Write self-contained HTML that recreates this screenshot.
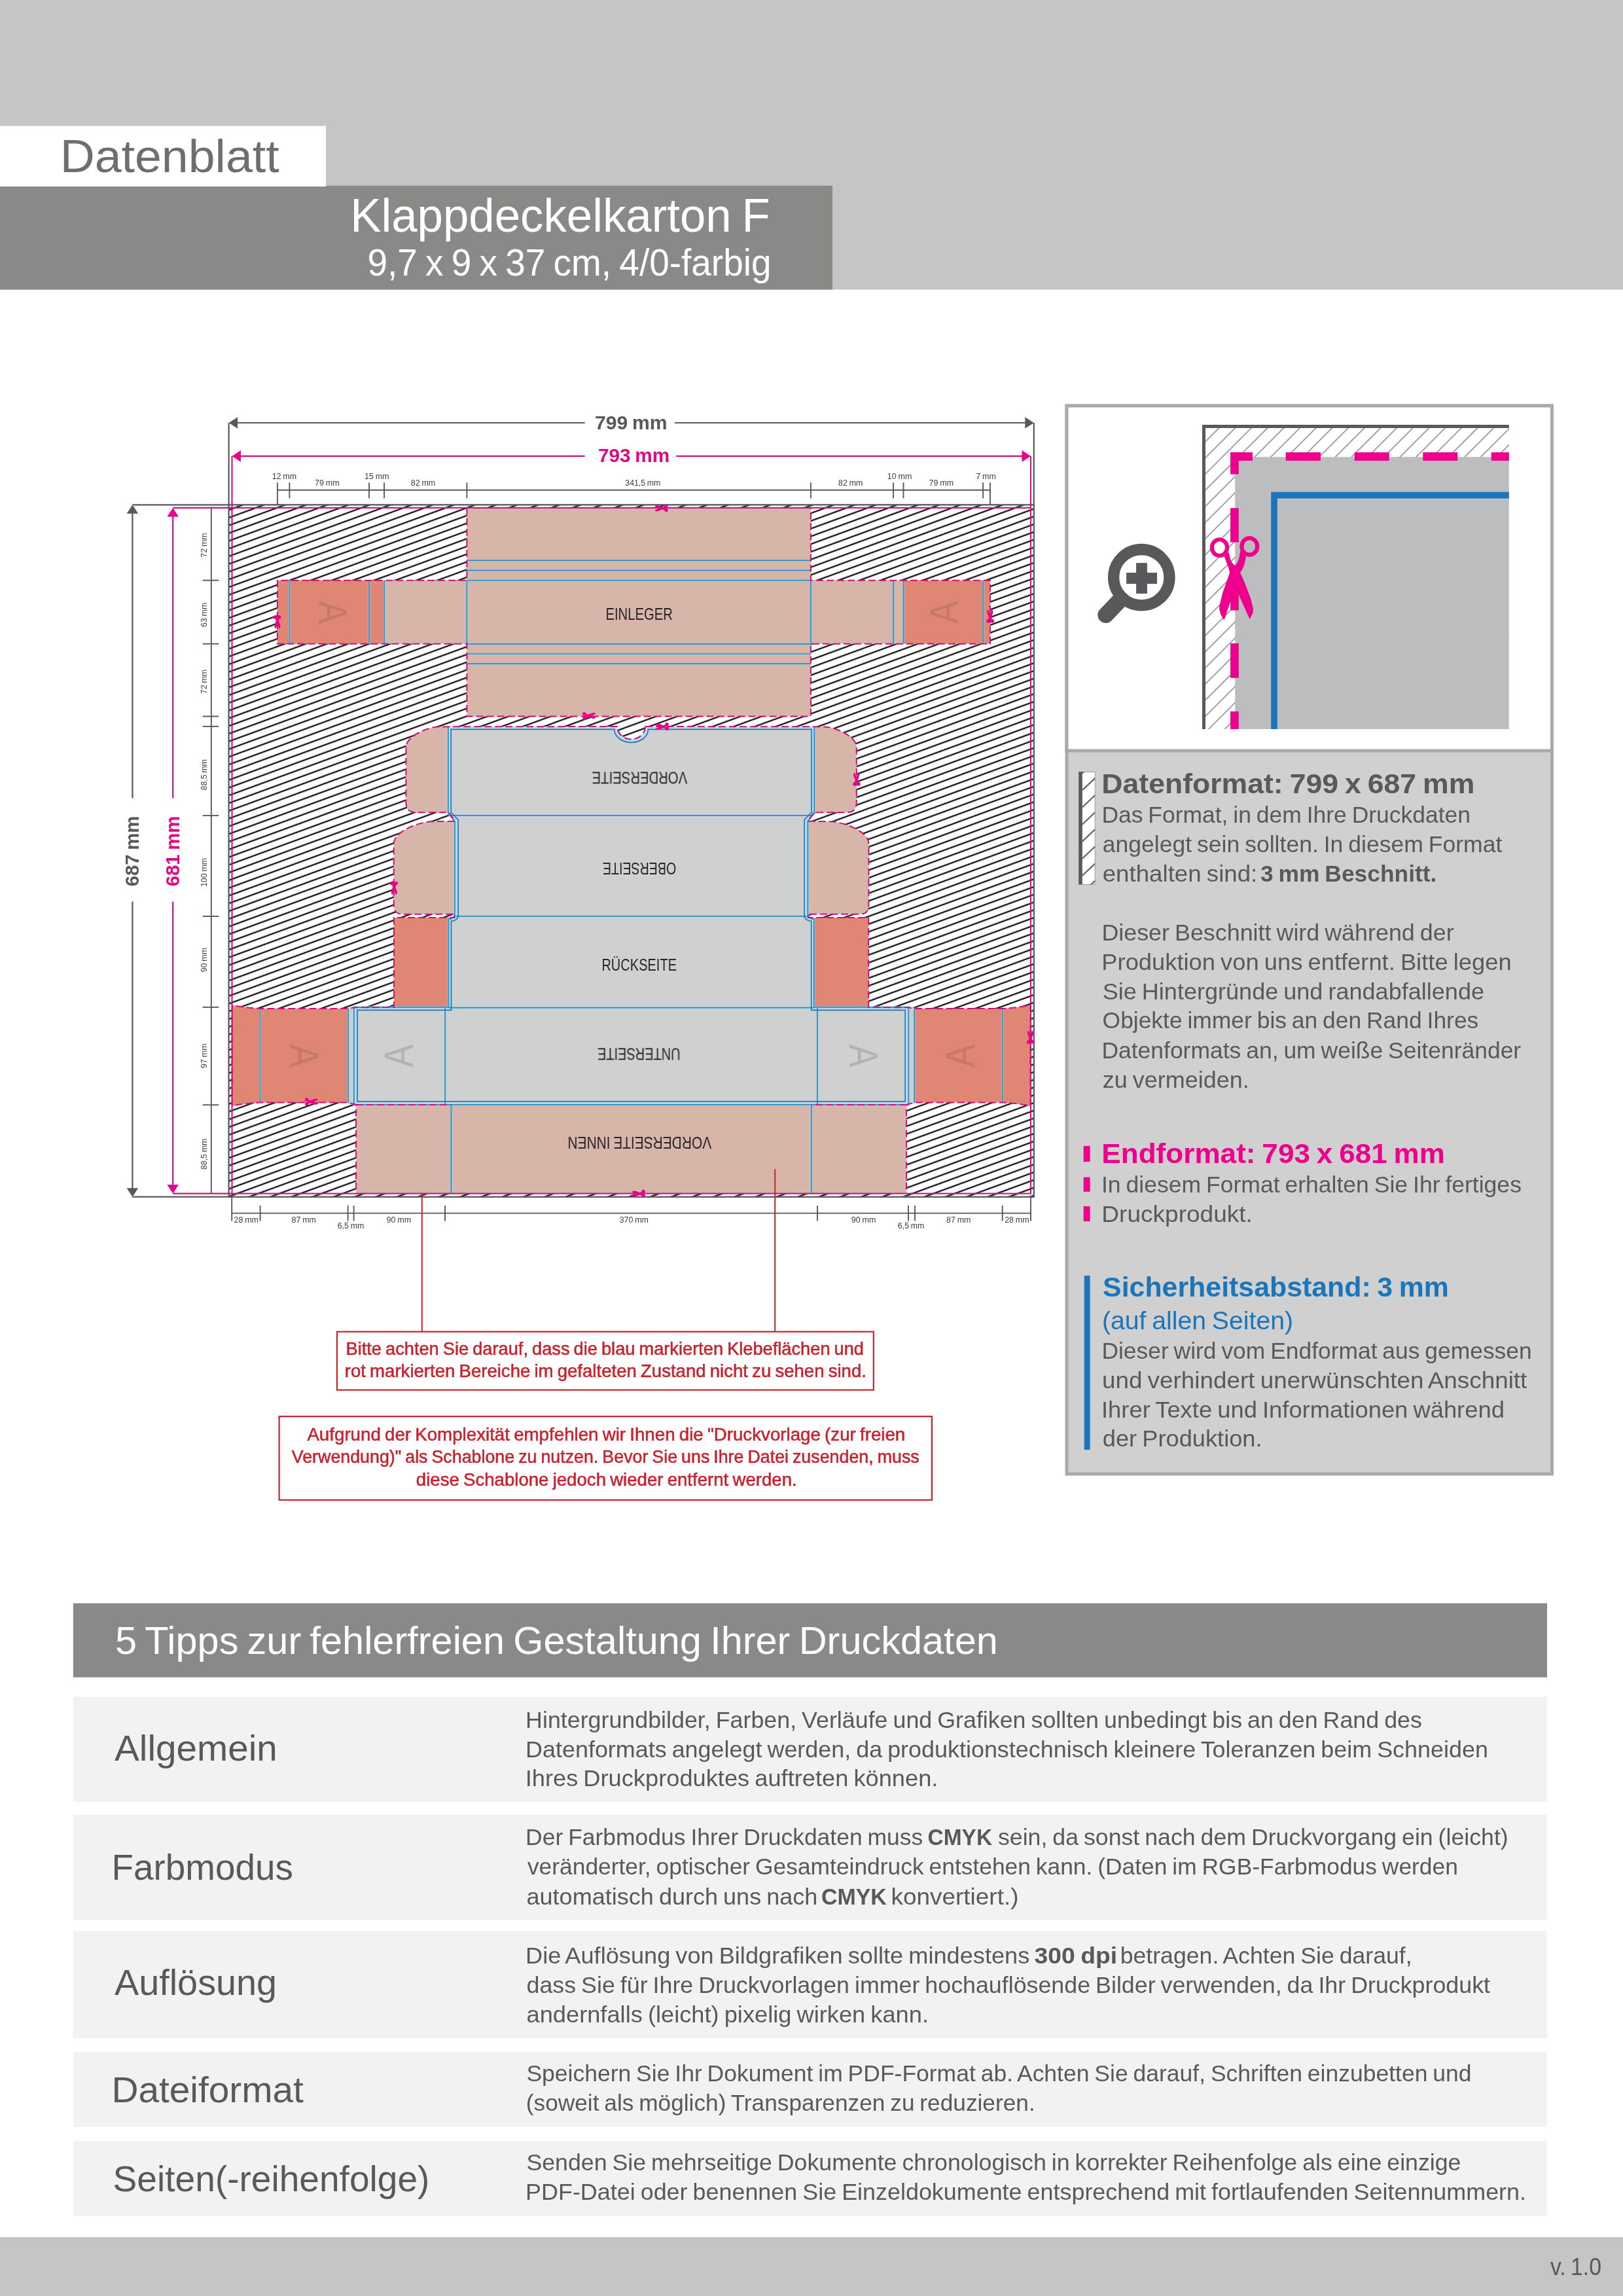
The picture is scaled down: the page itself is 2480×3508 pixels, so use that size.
<!DOCTYPE html>
<html lang="de"><head><meta charset="utf-8"><title>Datenblatt Klappdeckelkarton F</title>
<style>html,body{margin:0;padding:0;background:#fff}body{width:2480px;height:3508px;overflow:hidden;font-family:"Liberation Sans",sans-serif}svg{display:block;will-change:transform}text{white-space:pre;word-spacing:-0.055em}</style></head>
<body>
<svg width="2480" height="3508" viewBox="0 0 2480 3508" font-family='"Liberation Sans", sans-serif' fill="#58595b">
<defs>
<pattern id="hatch" patternUnits="userSpaceOnUse" width="40" height="11.07" patternTransform="translate(360 993.5) rotate(-20.08)"><rect width="40" height="11.07" fill="#fff"/><line x1="-1" y1="5.535" x2="41" y2="5.535" stroke="#111" stroke-width="2.15"/></pattern>
<pattern id="hatch45" patternUnits="userSpaceOnUse" width="40" height="17.45" patternTransform="translate(1842 662.3) rotate(-45)"><rect width="40" height="17.45" fill="#fff"/><line x1="-1" y1="8.7" x2="41" y2="8.7" stroke="#414143" stroke-width="1.1"/></pattern>
<g id="sc"><ellipse cx="-313" cy="-625" rx="157" ry="167" fill="none" stroke-width="82"/><ellipse cx="307" cy="-648" rx="161" ry="172" fill="none" stroke-width="84"/><path stroke="none" d="M5,-258 C60,-290 100,-400 115,-560 L235,-440 C215,-330 190,-200 115,-110 L235,170 L335,440 L385,640 L375,730 L310,855 L90,360 L25,180 L-97,520 L-205,840 L-230,865 L-285,760 L-317,660 L-315,580 L-245,300 L-165,80 L-100,-110 L-125,-200 L-225,-470 L-118,-530 C-100,-380 -60,-290 5,-258 Z"/></g>
<g id="sc2"><ellipse cx="-290" cy="-615" rx="150" ry="160" stroke-width="170"/><ellipse cx="290" cy="-635" rx="150" ry="160" stroke-width="170"/><path stroke-width="120" stroke-linejoin="round" d="M5,-258 C60,-290 100,-400 115,-560 L235,-440 C215,-330 190,-200 115,-110 L235,170 L335,440 L385,640 L375,730 L310,855 L90,360 L25,180 L-97,520 L-205,840 L-230,865 L-285,760 L-317,660 L-315,580 L-245,300 L-165,80 L-100,-110 L-125,-200 L-225,-470 L-118,-530 C-100,-380 -60,-290 5,-258 Z"/></g>
</defs>
<rect x="0.0" y="0.0" width="2480.0" height="442.5" fill="#c6c5c6" />
<rect x="0.0" y="283.8" width="1272.0" height="158.7" fill="#898a88" />
<rect x="0.0" y="192.5" width="498.0" height="92.5" fill="#ffffff" />
<text x="91.7" y="262.6" font-size="70.00" fill="#6d6e70" textLength="334.9" lengthAdjust="spacingAndGlyphs">Datenblatt</text>
<text x="535.2" y="353.6" font-size="71.50" fill="#ffffff" textLength="641.6" lengthAdjust="spacingAndGlyphs">Klappdeckelkarton F</text>
<text x="561.4" y="420.6" font-size="56.50" fill="#ffffff" textLength="617.1" lengthAdjust="spacingAndGlyphs">9,7 x 9 x 37 cm, 4/0-farbig</text>
<rect x="349.6" y="771.3" width="1230.2" height="1057.4" fill="url(#hatch)" />
<rect x="713.4" y="775.9" width="525.5" height="318.6" fill="#d8b5a9" />
<rect x="587.1" y="886.7" width="127.3" height="97.0" fill="#d8b5a9" />
<rect x="1237.9" y="886.7" width="142.6" height="97.0" fill="#d8b5a9" />
<rect x="423.9" y="886.7" width="163.2" height="97.0" fill="#e08674" />
<rect x="1380.5" y="886.7" width="132.5" height="97.0" fill="#e08674" />
<line x1="713.4" y1="856.1" x2="1238.9" y2="856.1" stroke="#a3d2ec" stroke-width="3.0" />
<line x1="713.4" y1="856.1" x2="1238.9" y2="856.1" stroke="#2c8dbf" stroke-width="1.7" />
<line x1="713.4" y1="871.3" x2="1238.9" y2="871.3" stroke="#a3d2ec" stroke-width="3.0" />
<line x1="713.4" y1="871.3" x2="1238.9" y2="871.3" stroke="#2c8dbf" stroke-width="1.7" />
<line x1="713.4" y1="886.7" x2="1238.9" y2="886.7" stroke="#a3d2ec" stroke-width="3.0" />
<line x1="713.4" y1="886.7" x2="1238.9" y2="886.7" stroke="#2c8dbf" stroke-width="1.7" />
<line x1="713.4" y1="983.8" x2="1238.9" y2="983.8" stroke="#a3d2ec" stroke-width="3.0" />
<line x1="713.4" y1="983.8" x2="1238.9" y2="983.8" stroke="#2c8dbf" stroke-width="1.7" />
<line x1="713.4" y1="999.0" x2="1238.9" y2="999.0" stroke="#a3d2ec" stroke-width="3.0" />
<line x1="713.4" y1="999.0" x2="1238.9" y2="999.0" stroke="#2c8dbf" stroke-width="1.7" />
<line x1="713.4" y1="1014.2" x2="1238.9" y2="1014.2" stroke="#a3d2ec" stroke-width="3.0" />
<line x1="713.4" y1="1014.2" x2="1238.9" y2="1014.2" stroke="#2c8dbf" stroke-width="1.7" />
<line x1="442.4" y1="886.7" x2="442.4" y2="983.7" stroke="#a3d2ec" stroke-width="3.0" />
<line x1="442.4" y1="886.7" x2="442.4" y2="983.7" stroke="#2c8dbf" stroke-width="1.7" />
<line x1="564.0" y1="886.7" x2="564.0" y2="983.7" stroke="#a3d2ec" stroke-width="3.0" />
<line x1="564.0" y1="886.7" x2="564.0" y2="983.7" stroke="#2c8dbf" stroke-width="1.7" />
<line x1="587.1" y1="886.7" x2="587.1" y2="983.7" stroke="#a3d2ec" stroke-width="3.0" />
<line x1="587.1" y1="886.7" x2="587.1" y2="983.7" stroke="#2c8dbf" stroke-width="1.7" />
<line x1="713.4" y1="886.7" x2="713.4" y2="983.7" stroke="#a3d2ec" stroke-width="3.0" />
<line x1="713.4" y1="886.7" x2="713.4" y2="983.7" stroke="#2c8dbf" stroke-width="1.7" />
<line x1="1238.9" y1="886.7" x2="1238.9" y2="983.7" stroke="#a3d2ec" stroke-width="3.0" />
<line x1="1238.9" y1="886.7" x2="1238.9" y2="983.7" stroke="#2c8dbf" stroke-width="1.7" />
<line x1="1365.1" y1="886.7" x2="1365.1" y2="983.7" stroke="#a3d2ec" stroke-width="3.0" />
<line x1="1365.1" y1="886.7" x2="1365.1" y2="983.7" stroke="#2c8dbf" stroke-width="1.7" />
<line x1="1380.5" y1="886.7" x2="1380.5" y2="983.7" stroke="#a3d2ec" stroke-width="3.0" />
<line x1="1380.5" y1="886.7" x2="1380.5" y2="983.7" stroke="#2c8dbf" stroke-width="1.7" />
<line x1="1502.1" y1="886.7" x2="1502.1" y2="983.7" stroke="#a3d2ec" stroke-width="3.0" />
<line x1="1502.1" y1="886.7" x2="1502.1" y2="983.7" stroke="#2c8dbf" stroke-width="1.7" />
<path d="M713.4,775.9 V886.7 H423.9 V983.7 H713.4 V1094.5 H1238.9 V983.7 H1513.0 V886.7 H1238.9 V775.9" fill="none" stroke="#cf0f7b" stroke-width="2.0" stroke-dasharray="10.8 5.2" />
<path d="M685.5 1110.0 L668.6 1110.4 C652.0 1111.3 622.0 1125.0 620.4 1140.0 L620.4 1226.0 Q620.4 1241.2 635.0 1241.2 L686.0 1241.2 Z" fill="#d8b5a9" stroke="none" stroke-width="1" />
<path d="M1243.7 1110.0 L1260.6 1110.4 C1277.2 1111.3 1307.2 1125.0 1308.8 1140.0 L1308.8 1226.0 Q1308.8 1241.2 1294.2 1241.2 L1243.2 1241.2 Z" fill="#d8b5a9" stroke="none" stroke-width="1" />
<path d="M695.5 1254.8 L659.0 1255.2 C634.9 1257.1 601.7 1271.8 601.7 1289.0 L601.8 1383.0 Q601.8 1396.8 616.0 1396.8 L695.5 1396.8 Z" fill="#d8b5a9" stroke="none" stroke-width="1" />
<path d="M1233.7 1254.8 L1270.2 1255.2 C1294.3 1257.1 1327.5 1271.8 1327.5 1289.0 L1327.4 1383.0 Q1327.4 1396.8 1313.2 1396.8 L1233.7 1396.8 Z" fill="#d8b5a9" stroke="none" stroke-width="1" />
<path d="M694.0 1401.9 L602.0 1401.9 L602.0 1539.0 L686.0 1539.0 Z" fill="#e08674" stroke="none" stroke-width="1" />
<path d="M1235.2 1401.9 L1327.2 1401.9 L1327.2 1539.0 L1243.2 1539.0 Z" fill="#e08674" stroke="none" stroke-width="1" />
<path d="M532.0 1541.0 L397.4 1541.0 Q372.0 1539.5 354.7 1535.8 L354.7 1689.8 Q372.0 1686.0 397.4 1684.4 L532.0 1684.4 Z" fill="#e08674" stroke="none" stroke-width="1" />
<path d="M1397.2 1541.0 L1531.8 1541.0 Q1557.2 1539.5 1574.5 1535.8 L1574.5 1689.8 Q1557.2 1686.0 1531.8 1684.4 L1397.2 1684.4 Z" fill="#e08674" stroke="none" stroke-width="1" />
<rect x="531.5" y="1539.5" width="10.0" height="147.7" fill="#c9cfd5" />
<rect x="1387.7" y="1539.5" width="10.0" height="147.7" fill="#c9cfd5" />
<rect x="544.1" y="1687.9" width="841.0" height="135.7" fill="#d8b5a9" />
<path d="M986.1,1110 A21.5,19.5 0 0 1 943.1,1110 L684.9 1110.0 L684.9 1242.4 L694.9 1254.5 L694.9 1396.5 A9.5 8.0 0 0 1 685.4 1404.5 L685.4 1538.9 L540.9 1538.9 L540.9 1687.9 L1388.3,1687.9 L1388.3,1538.9 L1243.8,1538.9 L1243.8,1404.5 A9.5,8 0 0 1 1234.3,1396.5 L1234.3,1254.5 L1244.3,1242.4 L1244.3,1110 Z" fill="#cfd0d0" stroke="none" stroke-width="1" />
<path d="M986.1,1110 A21.5,19.5 0 0 1 943.1,1110 L684.9 1110.0 L684.9 1242.4 L694.9 1254.5 L694.9 1396.5 A9.5 8.0 0 0 1 685.4 1404.5 L685.4 1538.9 L540.9 1538.9 L540.9 1687.9 L1388.3,1687.9 L1388.3,1538.9 L1243.8,1538.9 L1243.8,1404.5 A9.5,8 0 0 1 1234.3,1396.5 L1234.3,1254.5 L1244.3,1242.4 L1244.3,1110 Z M990.4,1114.4 A25.8,20 0 0 1 938.8,1114.4 L689.2,1114.4 L689.2,1241 L700.1,1252.6 L700.1,1399 A10.6,8.3 0 0 1 689.5,1407.3 L689.5,1543.3 L546,1543.3 L546,1682.9 L1383.2,1682.9 L1383.2,1543.3 L1239.7,1543.3 L1239.7,1407.3 A10.6,8.3 0 0 1 1229.1,1399 L1229.1,1252.6 L1240.0,1241 L1240.0,1114.4 Z" fill="#b9dcf2" stroke="none" stroke-width="1" fill-rule="evenodd"/>
<path d="M684.9,1110 L684.9 1242.4 L694.9 1254.5 L694.9 1396.5 A9.5 8.0 0 0 1 685.4 1404.5 L685.4 1538.9 L540.9 1538.9 L540.9 1687.9 L1388.3,1687.9 L1388.3,1538.9 L1243.8,1538.9 L1243.8,1404.5 A9.5,8 0 0 1 1234.3,1396.5 L1234.3,1254.5 L1244.3,1242.4 L1244.3,1110" fill="none" stroke="#a3d2ec" stroke-width="3.0" />
<path d="M684.9,1110 L684.9 1242.4 L694.9 1254.5 L694.9 1396.5 A9.5 8.0 0 0 1 685.4 1404.5 L685.4 1538.9 L540.9 1538.9 L540.9 1687.9 L1388.3,1687.9 L1388.3,1538.9 L1243.8,1538.9 L1243.8,1404.5 A9.5,8 0 0 1 1234.3,1396.5 L1234.3,1254.5 L1244.3,1242.4 L1244.3,1110" fill="none" stroke="#2c8dbf" stroke-width="1.7" />
<line x1="686.0" y1="1245.8" x2="1243.2" y2="1245.8" stroke="#a3d2ec" stroke-width="3.0" />
<line x1="686.0" y1="1245.8" x2="1243.2" y2="1245.8" stroke="#2c8dbf" stroke-width="1.7" />
<line x1="697.0" y1="1399.8" x2="1232.2" y2="1399.8" stroke="#a3d2ec" stroke-width="3.0" />
<line x1="697.0" y1="1399.8" x2="1232.2" y2="1399.8" stroke="#2c8dbf" stroke-width="1.7" />
<line x1="686.0" y1="1539.7" x2="1243.2" y2="1539.7" stroke="#a3d2ec" stroke-width="3.0" />
<line x1="686.0" y1="1539.7" x2="1243.2" y2="1539.7" stroke="#2c8dbf" stroke-width="1.7" />
<line x1="541.0" y1="1687.9" x2="1388.2" y2="1687.9" stroke="#a3d2ec" stroke-width="3.0" />
<line x1="541.0" y1="1687.9" x2="1388.2" y2="1687.9" stroke="#2c8dbf" stroke-width="1.7" />
<line x1="680.2" y1="1539.7" x2="680.2" y2="1687.9" stroke="#a3d2ec" stroke-width="3.0" />
<line x1="680.2" y1="1539.7" x2="680.2" y2="1687.9" stroke="#2c8dbf" stroke-width="1.7" />
<line x1="1249.0" y1="1539.7" x2="1249.0" y2="1687.9" stroke="#a3d2ec" stroke-width="3.0" />
<line x1="1249.0" y1="1539.7" x2="1249.0" y2="1687.9" stroke="#2c8dbf" stroke-width="1.7" />
<line x1="689.4" y1="1687.9" x2="689.4" y2="1823.6" stroke="#a3d2ec" stroke-width="3.0" />
<line x1="689.4" y1="1687.9" x2="689.4" y2="1823.6" stroke="#2c8dbf" stroke-width="1.7" />
<line x1="1239.8" y1="1687.9" x2="1239.8" y2="1823.6" stroke="#a3d2ec" stroke-width="3.0" />
<line x1="1239.8" y1="1687.9" x2="1239.8" y2="1823.6" stroke="#2c8dbf" stroke-width="1.7" />
<line x1="397.4" y1="1541.0" x2="397.4" y2="1684.4" stroke="#a3d2ec" stroke-width="3.0" />
<line x1="397.4" y1="1541.0" x2="397.4" y2="1684.4" stroke="#2c8dbf" stroke-width="1.7" />
<line x1="532.0" y1="1541.0" x2="532.0" y2="1684.4" stroke="#a3d2ec" stroke-width="3.0" />
<line x1="532.0" y1="1541.0" x2="532.0" y2="1684.4" stroke="#2c8dbf" stroke-width="1.7" />
<line x1="1531.8" y1="1541.0" x2="1531.8" y2="1684.4" stroke="#a3d2ec" stroke-width="3.0" />
<line x1="1531.8" y1="1541.0" x2="1531.8" y2="1684.4" stroke="#2c8dbf" stroke-width="1.7" />
<line x1="1397.2" y1="1541.0" x2="1397.2" y2="1684.4" stroke="#a3d2ec" stroke-width="3.0" />
<line x1="1397.2" y1="1541.0" x2="1397.2" y2="1684.4" stroke="#2c8dbf" stroke-width="1.7" />
<path d="M990.4,1114.4 A25.8,20 0 0 1 938.8,1114.4 L689.2,1114.4 L689.2,1241 L700.1,1252.6 L700.1,1399 A10.6,8.3 0 0 1 689.5,1407.3 L689.5,1543.3 L546,1543.3 L546,1682.9 L1383.2,1682.9 L1383.2,1543.3 L1239.7,1543.3 L1239.7,1407.3 A10.6,8.3 0 0 1 1229.1,1399 L1229.1,1252.6 L1240.0,1241 L1240.0,1114.4 Z" fill="none" stroke="#1f78b4" stroke-width="1.7" />
<path d="M986.1 1110.0 A21.5 19.5 0 0 1 943.1 1110.0 L668.6 1110.4 C652.0 1111.3 622.0 1125.0 620.4 1140.0 L620.4 1226.0 Q620.4 1241.2 635.0 1241.2 L686.0 1241.2 L695.0 1254.8 L659.0 1255.2 C634.9 1257.1 601.7 1271.8 601.7 1289.0 L601.8 1383.0 Q601.8 1396.8 616.0 1396.8 L695.5 1396.8 L694.5 1401.9 L602.0 1401.9 L602.0 1539.0 L541.0 1539.3 L532.0 1541.0 L397.4 1541.0 Q372.0 1539.5 354.7 1535.8 L354.7 1689.8 Q372.0 1686.0 397.4 1684.4 L532.0 1684.4 L541.0 1687.0 L544.1 1687.9 L544.1 1823.6" fill="none" stroke="#cf0f7b" stroke-width="2.0" stroke-dasharray="10.8 5.2" />
<path d="M986.1,1110 L1260.6 1110.4 C1277.2 1111.3 1307.2 1125.0 1308.8 1140.0 L1308.8 1226.0 Q1308.8 1241.2 1294.2 1241.2 L1243.2 1241.2 L1234.2 1254.8 L1270.2 1255.2 C1294.3 1257.1 1327.5 1271.8 1327.5 1289.0 L1327.4 1383.0 Q1327.4 1396.8 1313.2 1396.8 L1233.7 1396.8 L1234.7 1401.9 L1327.2 1401.9 L1327.2 1539.0 L1388.2 1539.3 L1397.2 1541.0 L1531.8 1541.0 Q1557.2 1539.5 1574.5 1535.8 L1574.5 1689.8 Q1557.2 1686.0 1531.8 1684.4 L1397.2 1684.4 L1388.2 1687.0 L1385.1 1687.9 L1385.1 1823.6" fill="none" stroke="#cf0f7b" stroke-width="2.0" stroke-dasharray="10.8 5.2" />
<path d="M544.1,1687.9 H689.4" fill="none" stroke="#cf0f7b" stroke-width="2.0" stroke-dasharray="10.8 5.2" />
<path d="M1385.1,1687.9 H1239.8" fill="none" stroke="#cf0f7b" stroke-width="2.0" stroke-dasharray="10.8 5.2" />
<rect x="354.5" y="775.9" width="1220.5" height="1047.7" fill="none" stroke="#c61480" stroke-width="2.1"/>
<rect x="349.6" y="771.3" width="1230.2" height="1057.4" fill="none" stroke="#58595b" stroke-width="2.3"/>
<text transform="translate(509.0 935.6) rotate(90)" x="0" y="21.6" text-anchor="middle" font-size="63" fill="#c57969" textLength="35" lengthAdjust="spacingAndGlyphs">A</text>
<text transform="translate(1442.0 935.6) rotate(-90)" x="0" y="21.6" text-anchor="middle" font-size="63" fill="#c57969" textLength="35" lengthAdjust="spacingAndGlyphs">A</text>
<text transform="translate(464.7 1613.3) rotate(90)" x="0" y="21.6" text-anchor="middle" font-size="63" fill="#c57969" textLength="35" lengthAdjust="spacingAndGlyphs">A</text>
<text transform="translate(1467.0 1613.3) rotate(-90)" x="0" y="21.6" text-anchor="middle" font-size="63" fill="#c57969" textLength="35" lengthAdjust="spacingAndGlyphs">A</text>
<text transform="translate(609.2 1613.3) rotate(-90)" x="0" y="21.6" text-anchor="middle" font-size="63" fill="#b2b3b3" textLength="35" lengthAdjust="spacingAndGlyphs">A</text>
<text transform="translate(1320.0 1613.3) rotate(90)" x="0" y="21.6" text-anchor="middle" font-size="63" fill="#b2b3b3" textLength="35" lengthAdjust="spacingAndGlyphs">A</text>
<text x="976.7" y="946.9" text-anchor="middle" font-size="26.5" fill="#272729" textLength="102.6" lengthAdjust="spacingAndGlyphs">EINLEGER</text>
<text x="977.4" y="1197.8" text-anchor="middle" font-size="26.5" fill="#272729" textLength="145.6" lengthAdjust="spacingAndGlyphs" transform="rotate(180 977.4 1188.7)">VORDERSEITE</text>
<text x="977.0" y="1336.1" text-anchor="middle" font-size="26.5" fill="#272729" textLength="112.3" lengthAdjust="spacingAndGlyphs" transform="rotate(180 977.0 1327.0)">OBERSEITE</text>
<text x="976.7" y="1482.9" text-anchor="middle" font-size="26.5" fill="#272729" textLength="114.6" lengthAdjust="spacingAndGlyphs">RÜCKSEITE</text>
<text x="976.3" y="1619.3" text-anchor="middle" font-size="26.5" fill="#272729" textLength="126.7" lengthAdjust="spacingAndGlyphs" transform="rotate(180 976.3 1610.2)">UNTERSEITE</text>
<text x="977.3" y="1755.5" text-anchor="middle" font-size="26.5" fill="#272729" textLength="219.7" lengthAdjust="spacingAndGlyphs" transform="rotate(180 977.3 1746.4)">VORDERSEITE INNEN</text>
<line x1="357.6" y1="646.0" x2="893.7" y2="646.0" stroke="#58595b" stroke-width="2.2" />
<line x1="1030.8" y1="646.0" x2="1571.8" y2="646.0" stroke="#58595b" stroke-width="2.2" />
<path d="M349.6,646.0 l13.5,-8.8 v17.6 Z M1579.8,646.0 l-13.5,-8.8 v17.6 Z" fill="#58595b"/>
<line x1="362.5" y1="696.9" x2="893.7" y2="696.9" stroke="#c61480" stroke-width="2.2" />
<line x1="1033.5" y1="696.9" x2="1567.0" y2="696.9" stroke="#c61480" stroke-width="2.2" />
<path d="M354.5,696.9 l13.5,-8.8 v17.6 Z M1575.0,696.9 l-13.5,-8.8 v17.6 Z" fill="#ec008c"/>
<line x1="349.6" y1="646.0" x2="349.6" y2="771.3" stroke="#58595b" stroke-width="2.2" />
<line x1="1579.8" y1="646.0" x2="1579.8" y2="771.3" stroke="#58595b" stroke-width="2.2" />
<line x1="354.5" y1="697.0" x2="354.5" y2="775.9" stroke="#c61480" stroke-width="2.1" />
<line x1="1575.0" y1="697.0" x2="1575.0" y2="775.9" stroke="#c61480" stroke-width="2.1" />
<text x="909.0" y="655.9" font-size="30.30" font-weight="bold" textLength="110.7" lengthAdjust="spacingAndGlyphs">799 mm</text>
<text x="913.9" y="706.2" font-size="30.30" font-weight="bold" fill="#de0a84" textLength="109.4" lengthAdjust="spacingAndGlyphs">793 mm</text>
<line x1="202.4" y1="779.3" x2="202.4" y2="1219.4" stroke="#58595b" stroke-width="2.2" />
<line x1="202.4" y1="1377.6" x2="202.4" y2="1820.7" stroke="#58595b" stroke-width="2.2" />
<path d="M202.4,771.3 l-8.8,13.5 h17.6 Z M202.4,1828.7 l-8.8,-13.5 h17.6 Z" fill="#58595b"/>
<line x1="264.2" y1="783.9" x2="264.2" y2="1219.4" stroke="#c61480" stroke-width="2.2" />
<line x1="264.2" y1="1377.6" x2="264.2" y2="1815.6" stroke="#c61480" stroke-width="2.2" />
<path d="M264.2,775.9 l-8.8,13.5 h17.6 Z M264.2,1823.6 l-8.8,-13.5 h17.6 Z" fill="#ec008c"/>
<line x1="202.4" y1="771.3" x2="349.6" y2="771.3" stroke="#58595b" stroke-width="2.2" />
<line x1="202.4" y1="1828.7" x2="349.6" y2="1828.7" stroke="#58595b" stroke-width="2.2" />
<line x1="264.2" y1="775.9" x2="354.5" y2="775.9" stroke="#c61480" stroke-width="2.1" />
<line x1="264.2" y1="1823.6" x2="354.5" y2="1823.6" stroke="#c61480" stroke-width="2.1" />
<text transform="translate(212.3 1300.5) rotate(-90)" text-anchor="middle" font-size="30.3" font-weight="bold" textLength="107.5" lengthAdjust="spacingAndGlyphs">687 mm</text>
<text transform="translate(274.2 1300.5) rotate(-90)" text-anchor="middle" font-size="30.3" font-weight="bold" fill="#de0a84" textLength="107.5" lengthAdjust="spacingAndGlyphs">681 mm</text>
<line x1="423.9" y1="748.7" x2="1513.0" y2="748.7" stroke="#58595b" stroke-width="1.9" />
<line x1="423.9" y1="737.2" x2="423.9" y2="771.3" stroke="#58595b" stroke-width="1.9" />
<line x1="442.4" y1="737.2" x2="442.4" y2="761.3" stroke="#58595b" stroke-width="1.9" />
<line x1="564.0" y1="737.2" x2="564.0" y2="761.3" stroke="#58595b" stroke-width="1.9" />
<line x1="587.1" y1="737.2" x2="587.1" y2="761.3" stroke="#58595b" stroke-width="1.9" />
<line x1="713.4" y1="737.2" x2="713.4" y2="761.3" stroke="#58595b" stroke-width="1.9" />
<line x1="1238.9" y1="737.2" x2="1238.9" y2="761.3" stroke="#58595b" stroke-width="1.9" />
<line x1="1365.1" y1="737.2" x2="1365.1" y2="761.3" stroke="#58595b" stroke-width="1.9" />
<line x1="1380.5" y1="737.2" x2="1380.5" y2="761.3" stroke="#58595b" stroke-width="1.9" />
<line x1="1502.1" y1="737.2" x2="1502.1" y2="761.3" stroke="#58595b" stroke-width="1.9" />
<line x1="1513.0" y1="737.2" x2="1513.0" y2="771.3" stroke="#58595b" stroke-width="1.9" />
<text transform="translate(434.4 727.3)" y="4.7" text-anchor="middle" font-size="12.1" fill="#3d3d3f" textLength="37.5" lengthAdjust="spacingAndGlyphs">12 mm</text>
<text transform="translate(499.8 737.7)" y="4.7" text-anchor="middle" font-size="12.1" fill="#3d3d3f" textLength="37.5" lengthAdjust="spacingAndGlyphs">79 mm</text>
<text transform="translate(575.8 727.3)" y="4.7" text-anchor="middle" font-size="12.1" fill="#3d3d3f" textLength="37.5" lengthAdjust="spacingAndGlyphs">15 mm</text>
<text transform="translate(646.5 737.7)" y="4.7" text-anchor="middle" font-size="12.1" fill="#3d3d3f" textLength="37.5" lengthAdjust="spacingAndGlyphs">82 mm</text>
<text transform="translate(982.3 737.7)" y="4.7" text-anchor="middle" font-size="12.1" fill="#3d3d3f" textLength="54.0" lengthAdjust="spacingAndGlyphs">341,5 mm</text>
<text transform="translate(1299.7 737.7)" y="4.7" text-anchor="middle" font-size="12.1" fill="#3d3d3f" textLength="37.5" lengthAdjust="spacingAndGlyphs">82 mm</text>
<text transform="translate(1374.6 727.3)" y="4.7" text-anchor="middle" font-size="12.1" fill="#3d3d3f" textLength="37.5" lengthAdjust="spacingAndGlyphs">10 mm</text>
<text transform="translate(1438.3 737.7)" y="4.7" text-anchor="middle" font-size="12.1" fill="#3d3d3f" textLength="37.5" lengthAdjust="spacingAndGlyphs">79 mm</text>
<text transform="translate(1506.7 727.3)" y="4.7" text-anchor="middle" font-size="12.1" fill="#3d3d3f" textLength="30.8" lengthAdjust="spacingAndGlyphs">7 mm</text>
<line x1="354.2" y1="1853.6" x2="1575.0" y2="1853.6" stroke="#58595b" stroke-width="1.9" />
<line x1="354.2" y1="1828.7" x2="354.2" y2="1865.5" stroke="#58595b" stroke-width="1.9" />
<line x1="397.6" y1="1842.0" x2="397.6" y2="1865.5" stroke="#58595b" stroke-width="1.9" />
<line x1="531.6" y1="1842.0" x2="531.6" y2="1865.5" stroke="#58595b" stroke-width="1.9" />
<line x1="540.6" y1="1842.0" x2="540.6" y2="1865.5" stroke="#58595b" stroke-width="1.9" />
<line x1="680.0" y1="1842.0" x2="680.0" y2="1865.5" stroke="#58595b" stroke-width="1.9" />
<line x1="1249.0" y1="1842.0" x2="1249.0" y2="1865.5" stroke="#58595b" stroke-width="1.9" />
<line x1="1388.0" y1="1842.0" x2="1388.0" y2="1865.5" stroke="#58595b" stroke-width="1.9" />
<line x1="1398.0" y1="1842.0" x2="1398.0" y2="1865.5" stroke="#58595b" stroke-width="1.9" />
<line x1="1531.7" y1="1842.0" x2="1531.7" y2="1865.5" stroke="#58595b" stroke-width="1.9" />
<line x1="1575.0" y1="1828.7" x2="1575.0" y2="1865.5" stroke="#58595b" stroke-width="1.9" />
<text transform="translate(376.2 1862.9)" y="4.7" text-anchor="middle" font-size="12.1" fill="#3d3d3f" textLength="37.5" lengthAdjust="spacingAndGlyphs">28 mm</text>
<text transform="translate(464.2 1862.9)" y="4.7" text-anchor="middle" font-size="12.1" fill="#3d3d3f" textLength="37.5" lengthAdjust="spacingAndGlyphs">87 mm</text>
<text transform="translate(536.0 1872.0)" y="4.7" text-anchor="middle" font-size="12.1" fill="#3d3d3f" textLength="40.6" lengthAdjust="spacingAndGlyphs">6,5 mm</text>
<text transform="translate(609.3 1862.9)" y="4.7" text-anchor="middle" font-size="12.1" fill="#3d3d3f" textLength="37.5" lengthAdjust="spacingAndGlyphs">90 mm</text>
<text transform="translate(968.8 1862.9)" y="4.7" text-anchor="middle" font-size="12.1" fill="#3d3d3f" textLength="44.2" lengthAdjust="spacingAndGlyphs">370 mm</text>
<text transform="translate(1319.6 1862.9)" y="4.7" text-anchor="middle" font-size="12.1" fill="#3d3d3f" textLength="37.5" lengthAdjust="spacingAndGlyphs">90 mm</text>
<text transform="translate(1392.1 1872.0)" y="4.7" text-anchor="middle" font-size="12.1" fill="#3d3d3f" textLength="40.6" lengthAdjust="spacingAndGlyphs">6,5 mm</text>
<text transform="translate(1464.7 1862.9)" y="4.7" text-anchor="middle" font-size="12.1" fill="#3d3d3f" textLength="37.5" lengthAdjust="spacingAndGlyphs">87 mm</text>
<text transform="translate(1553.9 1862.9)" y="4.7" text-anchor="middle" font-size="12.1" fill="#3d3d3f" textLength="37.5" lengthAdjust="spacingAndGlyphs">28 mm</text>
<line x1="322.8" y1="775.9" x2="322.8" y2="1823.6" stroke="#58595b" stroke-width="1.9" />
<line x1="309.7" y1="886.7" x2="334.3" y2="886.7" stroke="#58595b" stroke-width="1.9" />
<line x1="309.7" y1="983.7" x2="334.3" y2="983.7" stroke="#58595b" stroke-width="1.9" />
<line x1="309.7" y1="1094.5" x2="334.3" y2="1094.5" stroke="#58595b" stroke-width="1.9" />
<line x1="309.7" y1="1109.9" x2="334.3" y2="1109.9" stroke="#58595b" stroke-width="1.9" />
<line x1="309.7" y1="1246.1" x2="334.3" y2="1246.1" stroke="#58595b" stroke-width="1.9" />
<line x1="309.7" y1="1400.0" x2="334.3" y2="1400.0" stroke="#58595b" stroke-width="1.9" />
<line x1="309.7" y1="1538.9" x2="334.3" y2="1538.9" stroke="#58595b" stroke-width="1.9" />
<line x1="309.7" y1="1688.2" x2="334.3" y2="1688.2" stroke="#58595b" stroke-width="1.9" />
<text transform="translate(311.5 833.0) rotate(-90)" y="4.7" text-anchor="middle" font-size="12.1" fill="#3d3d3f" textLength="37.5" lengthAdjust="spacingAndGlyphs">72 mm</text>
<text transform="translate(311.5 939.4) rotate(-90)" y="4.7" text-anchor="middle" font-size="12.1" fill="#3d3d3f" textLength="37.5" lengthAdjust="spacingAndGlyphs">63 mm</text>
<text transform="translate(311.5 1041.5) rotate(-90)" y="4.7" text-anchor="middle" font-size="12.1" fill="#3d3d3f" textLength="37.5" lengthAdjust="spacingAndGlyphs">72 mm</text>
<text transform="translate(311.5 1183.8) rotate(-90)" y="4.7" text-anchor="middle" font-size="12.1" fill="#3d3d3f" textLength="47.3" lengthAdjust="spacingAndGlyphs">88,5 mm</text>
<text transform="translate(311.5 1333.0) rotate(-90)" y="4.7" text-anchor="middle" font-size="12.1" fill="#3d3d3f" textLength="44.2" lengthAdjust="spacingAndGlyphs">100 mm</text>
<text transform="translate(311.5 1466.6) rotate(-90)" y="4.7" text-anchor="middle" font-size="12.1" fill="#3d3d3f" textLength="37.5" lengthAdjust="spacingAndGlyphs">90 mm</text>
<text transform="translate(311.5 1613.2) rotate(-90)" y="4.7" text-anchor="middle" font-size="12.1" fill="#3d3d3f" textLength="37.5" lengthAdjust="spacingAndGlyphs">97 mm</text>
<text transform="translate(311.5 1763.4) rotate(-90)" y="4.7" text-anchor="middle" font-size="12.1" fill="#3d3d3f" textLength="47.3" lengthAdjust="spacingAndGlyphs">88,5 mm</text>
<use href="#sc2" transform="translate(1011.0 776.3) rotate(90) scale(0.0112)" fill="#e4058a" stroke="#e4058a"/>
<use href="#sc2" transform="translate(423.6 949.8) rotate(0) scale(0.0112)" fill="#e4058a" stroke="#e4058a"/>
<use href="#sc2" transform="translate(1513.2 942.0) rotate(180) scale(0.0112)" fill="#e4058a" stroke="#e4058a"/>
<use href="#sc2" transform="translate(899.9 1093.8) rotate(-90) scale(0.0112)" fill="#e4058a" stroke="#e4058a"/>
<use href="#sc2" transform="translate(1012.2 1110.0) rotate(90) scale(0.0112)" fill="#e4058a" stroke="#e4058a"/>
<use href="#sc2" transform="translate(1309.0 1191.0) rotate(180) scale(0.0112)" fill="#e4058a" stroke="#e4058a"/>
<use href="#sc2" transform="translate(602.0 1356.6) rotate(0) scale(0.0112)" fill="#e4058a" stroke="#e4058a"/>
<use href="#sc2" transform="translate(475.7 1683.5) rotate(-90) scale(0.0112)" fill="#e4058a" stroke="#e4058a"/>
<use href="#sc2" transform="translate(1574.8 1585.2) rotate(180) scale(0.0112)" fill="#e4058a" stroke="#e4058a"/>
<use href="#sc2" transform="translate(976.2 1823.7) rotate(90) scale(0.0112)" fill="#e4058a" stroke="#e4058a"/>
<line x1="644.8" y1="1823.6" x2="644.8" y2="2034.7" stroke="#c9212e" stroke-width="2.0" />
<line x1="1184.2" y1="1786.2" x2="1184.2" y2="2034.7" stroke="#c9212e" stroke-width="2.0" />
<rect x="515" y="2034.7" width="819.8" height="89" fill="#fff" stroke="#c9212e" stroke-width="2.2"/>
<rect x="426.6" y="2164.1" width="997.4" height="127.7" fill="#fff" stroke="#c9212e" stroke-width="2.2"/>
<text x="528.5" y="2069.9" font-size="27.80" fill="#c9212e" textLength="791.5" lengthAdjust="spacingAndGlyphs" stroke="#c9212e" stroke-width="0.55">Bitte achten Sie darauf, dass die blau markierten Klebeflächen und</text>
<text x="526.8" y="2104.4" font-size="27.80" fill="#c9212e" textLength="797.1" lengthAdjust="spacingAndGlyphs" stroke="#c9212e" stroke-width="0.55">rot markierten Bereiche im gefalteten Zustand nicht zu sehen sind.</text>
<text x="469.4" y="2200.7" font-size="27.80" fill="#c9212e" textLength="913.9" lengthAdjust="spacingAndGlyphs" stroke="#c9212e" stroke-width="0.55">Aufgrund der Komplexität empfehlen wir Ihnen die "Druckvorlage (zur freien</text>
<text x="445.8" y="2235.3" font-size="27.80" fill="#c9212e" textLength="958.9" lengthAdjust="spacingAndGlyphs" stroke="#c9212e" stroke-width="0.55">Verwendung)" als Schablone zu nutzen. Bevor Sie uns Ihre Datei zusenden, muss</text>
<text x="635.8" y="2270.2" font-size="27.80" fill="#c9212e" textLength="581.9" lengthAdjust="spacingAndGlyphs" stroke="#c9212e" stroke-width="0.55">diese Schablone jedoch wieder entfernt werden.</text>
<rect x="1630" y="620" width="741.5" height="1632" fill="#d1d0d1" stroke="#a9a9aa" stroke-width="5"/>
<rect x="1630" y="620" width="741.5" height="527" fill="#ffffff" stroke="#a9a9aa" stroke-width="5"/>
<rect x="1839.5" y="651.5" width="466.3" height="462.5" fill="url(#hatch45)"/>
<rect x="1887.2" y="698.2" width="418.6" height="415.8" fill="#bbbdbf" />
<path d="M1839.5,1114 V651.5 H2305.8" fill="none" stroke="#58595b" stroke-width="5"/>
<path d="M1947,1114 V756.6 H2305.8" fill="none" stroke="#1a75bb" stroke-width="9.6"/>
<rect x="1880.1" y="691.1" width="33.9" height="12.8" fill="#ec008c" />
<rect x="1880.1" y="691.1" width="12.7" height="33.5" fill="#ec008c" />
<rect x="1964.7" y="691.1" width="53.3" height="12.8" fill="#ec008c" />
<rect x="2069.7" y="691.1" width="53.0" height="12.8" fill="#ec008c" />
<rect x="2174.3" y="691.1" width="52.9" height="12.8" fill="#ec008c" />
<rect x="2278.8" y="691.1" width="27.0" height="12.8" fill="#ec008c" />
<rect x="1880.1" y="776.3" width="12.7" height="52.2" fill="#ec008c" />
<rect x="1880.1" y="880.5" width="12.7" height="52.0" fill="#ec008c" />
<rect x="1880.1" y="983.0" width="12.7" height="52.8" fill="#ec008c" />
<rect x="1880.1" y="1086.9" width="12.7" height="27.1" fill="#ec008c" />
<ellipse cx="1863.4" cy="836.6" rx="11" ry="11.8" fill="#fff"/>
<use href="#sc" transform="translate(1886.6 882.8) scale(0.07394)" fill="#ec008c" stroke="#ec008c"/>
<g stroke="#58595b" fill="none"><circle cx="1744.3" cy="882.2" r="42.7" stroke-width="17.3"/><line x1="1712.4" y1="915.7" x2="1689.6" y2="939.7" stroke-width="24.6" stroke-linecap="round"/><line x1="1721.1" y1="883.5" x2="1768" y2="883.5" stroke-width="16.8"/><line x1="1744.5" y1="860.1" x2="1744.5" y2="906.9" stroke-width="16.8"/></g>
<clipPath id="lgc"><rect x="1653.7" y="1179.3" width="19.7" height="172.2"/></clipPath>
<rect x="1653.2" y="1179.6" width="19.9" height="171.6" fill="#fff" stroke="#8a8b8d" stroke-width="0.8"/>
<path d="M1653.7,1181.3 l19.7,-18.5 M1653.7,1207.4 l19.7,-18.5 M1653.7,1233.5 l19.7,-18.5 M1653.7,1259.6 l19.7,-18.5 M1653.7,1285.7 l19.7,-18.5 M1653.7,1311.8 l19.7,-18.5 M1653.7,1337.9 l19.7,-18.5 M1653.7,1364.0 l19.7,-18.5" stroke="#68696b" stroke-width="2.3" clip-path="url(#lgc)"/>
<rect x="1648.2" y="1179.1" width="5.5" height="172.5" fill="#58595b"/>
<text x="1683.3" y="1211.5" font-size="43.00" font-weight="bold" textLength="570.0" lengthAdjust="spacingAndGlyphs">Datenformat: 799 x 687 mm</text>
<text x="1683.4" y="1256.9" font-size="34.60" textLength="563.6" lengthAdjust="spacingAndGlyphs">Das Format, in dem Ihre Druckdaten</text>
<text x="1684.8" y="1301.7" font-size="34.60" textLength="610.5" lengthAdjust="spacingAndGlyphs">angelegt sein sollten. In diesem Format</text>
<text x="1684.7" y="1346.6" font-size="34.60" textLength="236.6" lengthAdjust="spacingAndGlyphs">enthalten sind:</text>
<text x="1926.0" y="1346.6" font-size="34.60" font-weight="bold" textLength="269.4" lengthAdjust="spacingAndGlyphs">3 mm Beschnitt.</text>
<text x="1683.4" y="1436.8" font-size="34.60" textLength="538.2" lengthAdjust="spacingAndGlyphs">Dieser Beschnitt wird während der</text>
<text x="1683.3" y="1481.7" font-size="34.60" textLength="626.3" lengthAdjust="spacingAndGlyphs">Produktion von uns entfernt. Bitte legen</text>
<text x="1684.7" y="1526.5" font-size="34.60" textLength="583.3" lengthAdjust="spacingAndGlyphs">Sie Hintergründe und randabfallende</text>
<text x="1684.6" y="1571.4" font-size="34.60" textLength="574.7" lengthAdjust="spacingAndGlyphs">Objekte immer bis an den Rand Ihres</text>
<text x="1683.4" y="1616.7" font-size="34.60" textLength="640.8" lengthAdjust="spacingAndGlyphs">Datenformats an, um weiße Seitenränder</text>
<text x="1684.8" y="1661.6" font-size="34.60" textLength="224.0" lengthAdjust="spacingAndGlyphs">zu vermeiden.</text>
<rect x="1655.7" y="1750.8" width="9.9" height="24.2" fill="#ec008c" />
<rect x="1655.7" y="1798.6" width="9.9" height="22.2" fill="#ec008c" />
<rect x="1655.7" y="1843.0" width="9.9" height="23.0" fill="#ec008c" />
<text x="1683.3" y="1776.6" font-size="43.00" font-weight="bold" fill="#ec008c" textLength="524.7" lengthAdjust="spacingAndGlyphs">Endformat: 793 x 681 mm</text>
<text x="1683.0" y="1822.0" font-size="34.60" textLength="641.9" lengthAdjust="spacingAndGlyphs">In diesem Format erhalten Sie Ihr fertiges</text>
<text x="1683.3" y="1867.2" font-size="34.60" textLength="230.6" lengthAdjust="spacingAndGlyphs">Druckprodukt.</text>
<rect x="1656.7" y="1949.0" width="8.9" height="266.0" fill="#1a75bb" />
<text x="1685.1" y="1981.2" font-size="43.00" font-weight="bold" fill="#1a75bb" textLength="528.8" lengthAdjust="spacingAndGlyphs">Sicherheitsabstand: 3 mm</text>
<text x="1683.9" y="2030.5" font-size="38.30" fill="#1a75bb" textLength="292.2" lengthAdjust="spacingAndGlyphs">(auf allen Seiten)</text>
<text x="1683.4" y="2075.8" font-size="34.60" textLength="657.3" lengthAdjust="spacingAndGlyphs">Dieser wird vom Endformat aus gemessen</text>
<text x="1683.9" y="2120.7" font-size="34.60" textLength="649.4" lengthAdjust="spacingAndGlyphs">und verhindert unerwünschten Anschnitt</text>
<text x="1683.0" y="2165.5" font-size="34.60" textLength="615.9" lengthAdjust="spacingAndGlyphs">Ihrer Texte und Informationen während</text>
<text x="1684.8" y="2210.4" font-size="34.60" textLength="243.8" lengthAdjust="spacingAndGlyphs">der Produktion.</text>
<rect x="111.8" y="2449.6" width="2252.2" height="113.1" fill="#898a88" />
<text x="175.9" y="2527.2" font-size="60.00" fill="#ffffff" textLength="1348.9" lengthAdjust="spacingAndGlyphs">5 Tipps zur fehlerfreien Gestaltung Ihrer Druckdaten</text>
<rect x="111.8" y="2592.5" width="2252.2" height="161.0" fill="#f2f2f2" />
<rect x="111.8" y="2772.7" width="2252.2" height="160.9" fill="#f2f2f2" />
<rect x="111.8" y="2950.3" width="2252.2" height="164.1" fill="#f2f2f2" />
<rect x="111.8" y="3135.1" width="2252.2" height="114.6" fill="#f2f2f2" />
<rect x="111.8" y="3271.2" width="2252.2" height="114.6" fill="#f2f2f2" />
<text x="175.0" y="2689.5" font-size="55.50" textLength="248.8" lengthAdjust="spacingAndGlyphs">Allgemein</text>
<text x="170.6" y="2872.1" font-size="55.50" textLength="277.2" lengthAdjust="spacingAndGlyphs">Farbmodus</text>
<text x="175.0" y="3048.4" font-size="55.50" textLength="248.1" lengthAdjust="spacingAndGlyphs">Auflösung</text>
<text x="170.4" y="3212.1" font-size="55.50" textLength="293.5" lengthAdjust="spacingAndGlyphs">Dateiformat</text>
<text x="172.6" y="3348.1" font-size="55.50" textLength="483.8" lengthAdjust="spacingAndGlyphs">Seiten(-reihenfolge)</text>
<text x="803.1" y="2639.6" font-size="34.30" textLength="1369.8" lengthAdjust="spacingAndGlyphs">Hintergrundbilder, Farben, Verläufe und Grafiken sollten unbedingt bis an den Rand des</text>
<text x="803.1" y="2684.7" font-size="34.30" textLength="1470.8" lengthAdjust="spacingAndGlyphs">Datenformats angelegt werden, da produktionstechnisch kleinere Toleranzen beim Schneiden</text>
<text x="802.7" y="2729.3" font-size="34.30" textLength="630.7" lengthAdjust="spacingAndGlyphs">Ihres Druckproduktes auftreten können.</text>
<text x="803.1" y="2819.3" font-size="34.30" textLength="607.2" lengthAdjust="spacingAndGlyphs">Der Farbmodus Ihrer Druckdaten muss</text>
<text x="1417.6" y="2819.3" font-size="34.30" font-weight="bold" textLength="98.5" lengthAdjust="spacingAndGlyphs">CMYK</text>
<text x="1525.0" y="2819.3" font-size="34.30" textLength="779.7" lengthAdjust="spacingAndGlyphs">sein, da sonst nach dem Druckvorgang ein (leicht)</text>
<text x="805.9" y="2864.4" font-size="34.30" textLength="1422.0" lengthAdjust="spacingAndGlyphs">veränderter, optischer Gesamteindruck entstehen kann. (Daten im RGB-Farbmodus werden</text>
<text x="804.5" y="2909.5" font-size="34.30" textLength="444.9" lengthAdjust="spacingAndGlyphs">automatisch durch uns nach</text>
<text x="1254.9" y="2909.5" font-size="34.30" font-weight="bold" textLength="100.0" lengthAdjust="spacingAndGlyphs">CMYK</text>
<text x="1361.5" y="2909.5" font-size="34.30" textLength="195.0" lengthAdjust="spacingAndGlyphs">konvertiert.)</text>
<text x="803.0" y="2999.8" font-size="34.30" textLength="770.3" lengthAdjust="spacingAndGlyphs">Die Auflösung von Bildgrafiken sollte mindestens</text>
<text x="1580.6" y="2999.8" font-size="34.30" font-weight="bold" textLength="126.5" lengthAdjust="spacingAndGlyphs">300 dpi</text>
<text x="1711.7" y="2999.8" font-size="34.30" textLength="446.0" lengthAdjust="spacingAndGlyphs">betragen. Achten Sie darauf,</text>
<text x="804.5" y="3044.9" font-size="34.30" textLength="1472.5" lengthAdjust="spacingAndGlyphs">dass Sie für Ihre Druckvorlagen immer hochauflösende Bilder verwenden, da Ihr Druckprodukt</text>
<text x="804.5" y="3090.0" font-size="34.30" textLength="614.5" lengthAdjust="spacingAndGlyphs">andernfalls (leicht) pixelig wirken kann.</text>
<text x="804.4" y="3179.5" font-size="34.30" textLength="1444.1" lengthAdjust="spacingAndGlyphs">Speichern Sie Ihr Dokument im PDF-Format ab. Achten Sie darauf, Schriften einzubetten und</text>
<text x="803.8" y="3225.3" font-size="34.30" textLength="777.9" lengthAdjust="spacingAndGlyphs">(soweit als möglich) Transparenzen zu reduzieren.</text>
<text x="804.4" y="3315.5" font-size="34.30" textLength="1428.1" lengthAdjust="spacingAndGlyphs">Senden Sie mehrseitige Dokumente chronologisch in korrekter Reihenfolge als eine einzige</text>
<text x="803.1" y="3360.6" font-size="34.30" textLength="1528.9" lengthAdjust="spacingAndGlyphs">PDF-Datei oder benennen Sie Einzeldokumente entsprechend mit fortlaufenden Seitennummern.</text>
<rect x="0.0" y="3418.0" width="2480.0" height="90.0" fill="#c6c5c6" />
<text x="2368.9" y="3476.1" font-size="36.50" textLength="78.0" lengthAdjust="spacingAndGlyphs">v. 1.0</text>
</svg>
</body></html>
